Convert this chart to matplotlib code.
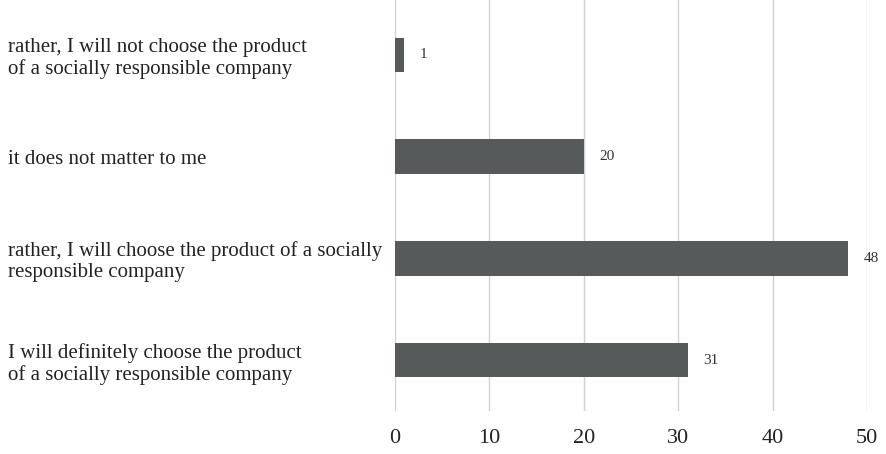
import matplotlib
matplotlib.use('Agg')
import matplotlib.pyplot as plt

labels = [
    'I will definitely choose the product\nof a socially responsible company',
    'rather, I will choose the product of a socially\nresponsible company',
    'it does not matter to me',
    'rather, I will not choose the product\nof a socially responsible company',
]
values = [31, 48, 20, 1]
x_ticks = [0, 10, 20, 30, 40, 50]

plt.rcParams['font.family'] = ['Liberation Serif', 'DejaVu Serif']

fig = plt.figure(figsize=(8.86, 4.54), dpi=100)
ax = fig.add_axes([395 / 886, 1 - 411 / 454, (867 - 395) / 886, 411 / 454])

pos = list(range(len(values)))
bars = ax.barh(pos, values, height=0.34, color='#575a5b', zorder=3)

for b, v in zip(bars, values):
    ax.annotate(str(v), (b.get_width(), b.get_y() + b.get_height() / 2),
                xytext=(11, 0), textcoords='offset points',
                va='center', ha='left', fontsize=11, color='#333333')

ax.set_xlim(0, 50)
ax.set_ylim(-0.5, 3.54)
ax.set_xticks(x_ticks)
ax.set_xticklabels([str(t) for t in x_ticks], fontsize=16, color='#222222')
ax.tick_params(axis='x', length=0, pad=13)

ax.set_yticks(pos)
ax.set_yticklabels(labels, fontsize=15, color='#222222', ha='left',
                   linespacing=1.15)
ax.tick_params(axis='y', length=0, pad=387 * 0.72)

ax.grid(axis='x', color='#d0d0d0', linewidth=1, zorder=0)
ax.grid(axis='y', visible=False)
for s in ax.spines.values():
    s.set_visible(False)

fig.savefig('out.png', dpi=100)
